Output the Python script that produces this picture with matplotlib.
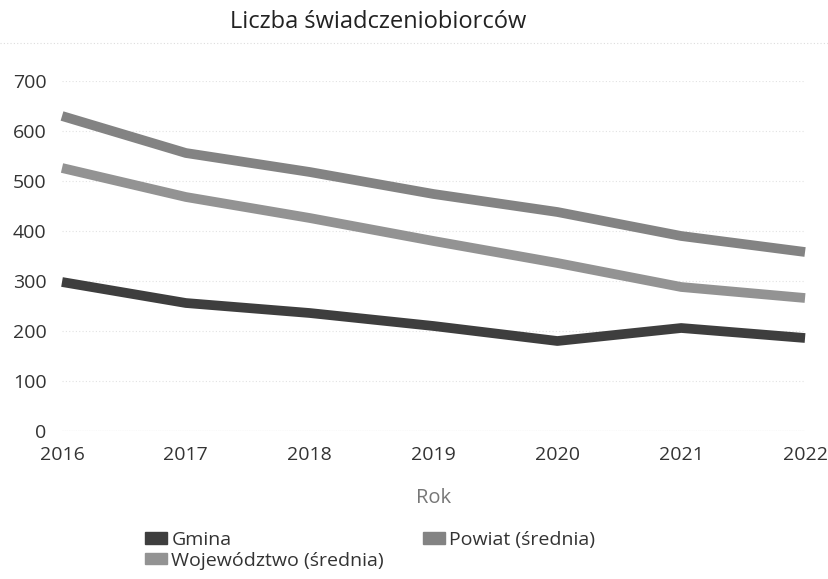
import matplotlib.pyplot as plt
from matplotlib.patches import Patch
from matplotlib.lines import Line2D

plt.rcParams['font.family'] = ['Open Sans', 'DejaVu Sans']

years = [2016, 2017, 2018, 2019, 2020, 2021, 2022]
gmina = [298, 256, 236, 210, 180, 206, 186]
powiat = [630, 556, 518, 474, 438, 390, 358]
wojewodztwo = [526, 468, 426, 380, 336, 288, 266]

labels = ['Gmina', 'Powiat (średnia)', 'Województwo (średnia)']
colors = ['#3e3e3e', '#838383', '#939393']

fig = plt.figure(figsize=(8.29, 5.79), dpi=100)
ax = fig.add_axes([0.0748, 0.2556, 0.8963, 0.6045])

for vals, c in zip([gmina, powiat, wojewodztwo], colors):
    ax.plot(years, vals, color=c, linewidth=7, solid_capstyle='butt',
            solid_joinstyle='round', clip_on=False)

ax.set_xlim(2016, 2022)
ax.set_ylim(0, 700)
ax.set_yticks(range(0, 701, 100))
ax.set_xticks(years)
ax.grid(axis='y', color='#e2e2e2', linestyle=(0, (1, 2)), linewidth=0.8)
ax.axhline(0, color='#b0b0b0', linestyle=(0, (1, 1)), linewidth=0.8, zorder=0)
ax.set_axisbelow(True)
for s in ax.spines.values():
    s.set_visible(False)
ax.tick_params(length=0, labelsize=14, colors='#333333')
ax.tick_params(axis='y', pad=11)
ax.tick_params(axis='x', pad=11)

fig.text(0.523, 1 - 498 / 579, 'Rok', fontsize=14.5, color='#777777',
         ha='center', va='center')
fig.text(0.277, 0.962, 'Liczba świadczeniobiorców', fontsize=17, color='#222222',
         ha='left', va='center')
fig.add_artist(Line2D([0.0, 1.0], [1 - 43 / 579] * 2, color='#dddddd',
                      linestyle=(0, (1, 2)), linewidth=0.8))

handles = [Patch(facecolor=c, edgecolor=c) for c in colors]
leg = fig.legend([handles[0], handles[2], handles[1]],
                 [labels[0], labels[2], labels[1]],
                 loc='upper left', bbox_to_anchor=(0.175, 0.083), ncol=2,
                 frameon=False, fontsize=14, handlelength=1.15, handleheight=0.5,
                 handletextpad=0.2, columnspacing=2.0, labelspacing=0.15,
                 borderaxespad=0, borderpad=0)
for t in leg.get_texts():
    t.set_color('#333333')

fig.savefig('out.png', dpi=100, facecolor='white')
